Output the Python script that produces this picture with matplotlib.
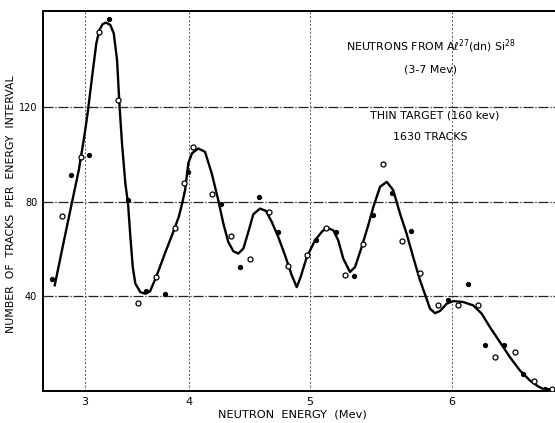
import numpy as np
import matplotlib
matplotlib.use("Agg")
import matplotlib.pyplot as plt

# ---- data ----
curve_e = [2.675, 2.754, 2.844, 2.934, 2.997, 3.031, 3.073, 3.117, 3.148, 3.182, 3.216, 3.259,
           3.293, 3.326, 3.349, 3.375, 3.408, 3.434, 3.457, 3.480, 3.505, 3.553, 3.601, 3.645,
           3.704, 3.788, 3.849, 3.911, 3.941, 3.968, 3.997, 4.030, 4.085,
           4.144, 4.203, 4.259, 4.302, 4.344, 4.386, 4.428, 4.470, 4.511, 4.552, 4.607, 4.655,
           4.701, 4.753, 4.806, 4.859, 4.898, 4.928, 4.975,
           5.038, 5.088, 5.124, 5.175, 5.211, 5.248, 5.297, 5.334, 5.382, 5.429, 5.465, 5.512,
           5.559, 5.604, 5.651, 5.696, 5.741, 5.787, 5.832,
           5.854, 5.887, 5.920, 5.964, 6.007, 6.072, 6.135, 6.189, 6.241, 6.303, 6.365, 6.426,
           6.487, 6.537, 6.566, 6.616]
curve_n = [44.7, 59.5, 76.4, 93.3, 108.9, 118.7, 132.8, 147.0, 152.6, 155.1, 155.7, 154.7,
           151.2, 139.9, 121.6, 104.6, 87.7, 79.2, 65.1, 52.4, 45.4, 41.8, 41.1, 42.1,
           48.3, 58.6, 65.8, 73.6, 79.2, 85.0, 96.3, 100.5, 102.5,
           101.1, 91.9, 80.6, 70.8, 63.0, 59.1, 58.1, 60.2, 67.2, 74.7, 77.1, 76.1,
           71.5, 65.1, 57.4, 48.9, 43.9, 48.2, 56.6,
           63.7, 67.2, 69.1, 67.9, 63.7, 56.0, 50.3, 52.4, 60.9, 70.1, 77.8, 86.3,
           88.4, 84.9, 75.0, 66.5, 56.6, 46.8, 38.8,
           34.8, 32.9, 33.8, 36.9, 38.0, 37.6, 36.2, 32.7, 27.0, 20.7, 14.3, 8.7,
           4.4, 1.9, 0.9, 0.6]

open_e = [2.751, 2.958, 3.148, 3.339, 3.531, 3.704, 3.874, 3.961, 4.041, 4.205, 4.367, 4.523,
          4.680, 4.832, 4.977, 5.120, 5.263, 5.389, 5.533, 5.667, 5.789, 5.909, 6.036, 6.164,
          6.270, 6.396, 6.511, 6.620]
open_n = [74.0, 99.0, 151.8, 123.0, 37.2, 48.3, 68.9, 88.0, 103.2, 83.3, 65.7, 56.0,
          75.7, 52.7, 57.5, 68.8, 49.2, 62.1, 95.9, 63.6, 49.9, 36.3, 36.2, 36.3,
          14.2, 16.4, 4.1, 1.0]

filled_e = [2.642, 2.849, 3.042, 3.243, 3.432, 3.610, 3.788, 3.991, 4.280, 4.442, 4.599, 4.751,
            5.047, 5.192, 5.324, 5.460, 5.597, 5.726, 5.975, 6.100, 6.212, 6.328, 6.446, 6.577]
filled_n = [47.5, 91.1, 99.7, 157.1, 80.9, 42.1, 40.8, 92.6, 78.9, 52.4, 82.0, 67.0,
            64.0, 67.1, 48.8, 74.2, 83.6, 67.8, 38.3, 45.2, 19.4, 19.4, 7.0, 0.9]

x_ticks = [3, 4, 5, 6]
y_ticks = [40, 80, 120]

title_lines = ["NEUTRONS FROM A\u2113$^{27}$(dn) Si$^{28}$", "(3-7 Mev)",
               "THIN TARGET (160 kev)", "1630 TRACKS"]

# ---- figure ----
plt.rcParams['font.family'] = ['DejaVu Sans']
fig = plt.figure(figsize=(5.55, 4.23), dpi=100)
ax = fig.add_axes([42.7 / 555, 32 / 423, (555 - 42.7) / 555, (391 - 11.5) / 423])

k = 0.158
ax.set_xscale('function', functions=(lambda e: np.exp(k * np.asarray(e)),
                                     lambda u: np.log(np.clip(np.asarray(u), 1e-9, None)) / k))
ax.set_xlim(2.541, 6.636)
ax.set_ylim(0, 160.4)

ax.plot(curve_e, curve_n, color='black', lw=1.7, solid_joinstyle='round', zorder=3)
ax.plot(open_e, open_n, linestyle='none', marker='o', ms=3.6, mfc='white', mec='black',
        mew=0.9, zorder=4)
ax.plot(filled_e, filled_n, linestyle='none', marker='o', ms=2.8, mfc='black', mec='black',
        zorder=4)

ax.set_xticks(x_ticks)
ax.set_xticklabels([str(t) for t in x_ticks])
ax.set_yticks(y_ticks)
ax.set_yticklabels([str(t) for t in y_ticks])
ax.tick_params(axis='x', length=0, labelsize=8, pad=4)
ax.tick_params(axis='y', length=0, labelsize=7, pad=4)

for t in y_ticks:
    ax.axhline(t, color='#222222', lw=0.9, ls=(0, (8, 1.5, 1, 1.5)), zorder=1)
for t in x_ticks:
    ax.axvline(t, color='#555555', lw=0.7, ls=(0, (2, 2)), zorder=1)

for s in ['left', 'bottom', 'top']:
    ax.spines[s].set_linewidth(1.4)
    ax.spines[s].set_color('black')
ax.spines['right'].set_visible(False)

fig.text(11 / 555, 1 - 204 / 423, "NUMBER  OF  TRACKS  PER  ENERGY  INTERVAL", rotation=90,
         ha='center', va='center', fontsize=7.8)
fig.text(292 / 555, 1 - 414 / 423, "NEUTRON  ENERGY  (Mev)", ha='center', va='center',
         fontsize=8.2)

ys = [46, 70, 115, 137]
xs = [431, 430, 435, 430]
for txt, xx, yy in zip(title_lines, xs, ys):
    fig.text(xx / 555, 1 - yy / 423, txt, ha='center', va='center', fontsize=7.9)

fig.savefig("out.png", dpi=100)
